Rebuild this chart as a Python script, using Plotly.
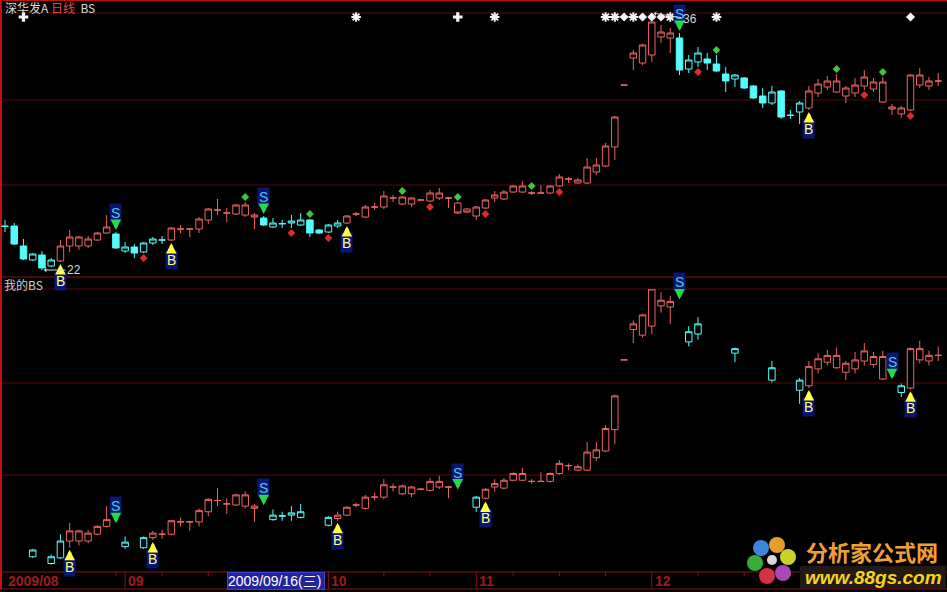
import plotly.graph_objects as go

# ---------------- data ----------------
opens = [5.10, 5.10, 4.70, 4.42, 4.52, 4.30, 4.40, 4.70, 4.70, 4.70,
         4.82, 4.96, 4.94, 4.60, 4.68, 4.58, 4.76, 4.82, 4.82, 5.04,
         5.04, 5.04, 5.22, 5.42, 5.36, 5.34, 5.32, 5.28, 5.26, 5.08,
         5.14, 5.16, 5.12, 5.22, 5.02, 4.98, 5.10, 5.16, 5.34, 5.28,
         5.48, 5.48, 5.66, 5.54, 5.54, 5.62, 5.60, 5.66, 5.66, 5.56,
         5.44, 5.30, 5.46, 5.66, 5.64, 5.78, 5.78, 5.76, 5.76, 5.76,
         5.90, 6.04, 5.96, 5.96, 6.18, 6.30, 6.68, 7.92, 8.46, 8.36,
         8.52, 8.88, 8.86, 8.86, 8.24, 8.38, 8.44, 8.34, 8.14, 8.04,
         8.06, 7.90, 7.70, 7.56, 7.80, 7.32, 7.38, 7.46, 7.76, 7.88,
         7.78, 7.70, 7.76, 7.90, 7.84, 7.58, 7.48, 7.34, 7.42, 7.92,
         7.90, 8.00]
highs = [5.22, 5.16, 4.84, 4.56, 4.60, 4.46, 4.82, 5.02, 4.90, 4.90,
         4.98, 5.32, 4.98, 4.78, 4.74, 4.78, 4.88, 4.90, 5.08, 5.12,
         5.06, 5.28, 5.46, 5.64, 5.46, 5.54, 5.58, 5.36, 5.30, 5.26,
         5.22, 5.32, 5.36, 5.24, 5.04, 5.14, 5.22, 5.32, 5.38, 5.52,
         5.56, 5.80, 5.72, 5.70, 5.68, 5.64, 5.82, 5.86, 5.68, 5.58,
         5.46, 5.50, 5.64, 5.80, 5.82, 5.92, 6.00, 5.80, 5.92, 5.92,
         6.14, 6.08, 6.06, 6.46, 6.46, 6.76, 7.30, 7.92, 8.62, 8.74,
         9.36, 9.12, 9.06, 8.96, 8.52, 8.68, 8.56, 8.52, 8.28, 8.14,
         8.08, 7.92, 7.86, 7.90, 7.82, 7.42, 7.60, 7.90, 8.04, 8.10,
         8.14, 7.90, 8.06, 8.22, 8.06, 8.08, 7.54, 7.50, 8.14, 8.26,
         8.08, 8.16]
lows = [4.98, 4.72, 4.42, 4.40, 4.22, 4.28, 4.38, 4.58, 4.62, 4.66,
        4.80, 4.94, 4.64, 4.56, 4.46, 4.56, 4.72, 4.74, 4.80, 4.96,
        4.88, 4.96, 5.14, 5.32, 5.18, 5.32, 5.28, 5.04, 5.10, 5.06,
        5.06, 5.06, 5.10, 4.88, 4.94, 4.96, 5.06, 5.14, 5.30, 5.26,
        5.42, 5.44, 5.58, 5.52, 5.48, 5.60, 5.58, 5.62, 5.46, 5.34,
        5.36, 5.22, 5.44, 5.58, 5.62, 5.76, 5.76, 5.72, 5.76, 5.74,
        5.88, 5.96, 5.94, 5.94, 6.12, 6.28, 6.42, 7.92, 8.22, 8.32,
        8.38, 8.76, 8.56, 8.12, 8.16, 8.28, 8.22, 8.18, 7.78, 7.88,
        7.84, 7.64, 7.46, 7.52, 7.24, 7.24, 7.14, 7.42, 7.68, 7.82,
        7.76, 7.56, 7.68, 7.82, 7.78, 7.56, 7.32, 7.26, 7.40, 7.86,
        7.82, 7.90]
closes = [5.09, 4.74, 4.44, 4.54, 4.26, 4.42, 4.70, 4.88, 4.88, 4.84,
          4.96, 5.08, 4.66, 4.68, 4.56, 4.76, 4.84, 4.82, 5.06, 5.04,
          5.04, 5.24, 5.44, 5.42, 5.36, 5.52, 5.52, 5.32, 5.12, 5.16,
          5.15, 5.20, 5.22, 4.96, 4.96, 5.12, 5.16, 5.30, 5.34, 5.48,
          5.48, 5.70, 5.66, 5.68, 5.66, 5.62, 5.76, 5.76, 5.66, 5.36,
          5.38, 5.48, 5.62, 5.72, 5.78, 5.90, 5.90, 5.76, 5.76, 5.90,
          6.08, 6.04, 6.02, 6.28, 6.32, 6.70, 7.28, 7.92, 8.56, 8.72,
          9.18, 8.98, 8.96, 8.22, 8.42, 8.56, 8.36, 8.20, 8.00, 8.12,
          7.86, 7.66, 7.56, 7.78, 7.28, 7.31, 7.56, 7.80, 7.94, 8.00,
          8.00, 7.86, 7.92, 8.08, 7.98, 7.98, 7.44, 7.46, 8.12, 8.12,
          8.00, 8.00]

top_buy = [6, 18, 37, 87]
top_sell = [12, 28, 73]
bot_buy = [7, 16, 36, 52, 87, 98]
bot_sell = [12, 28, 49, 73, 96]

green_dots = [26, 33, 43, 49, 57, 77, 90, 95]
red_dots = [15, 31, 35, 46, 52, 60, 75, 93, 98]

star_marks = [38, 53, 65, 66, 68, 72, 77]
diamond_marks = [67, 69, 70, 71, 73, 98]
plus_marks = [2, 49]

month_labels = ["2009/08", "09", "10", "11", "12"]
month_start = [0, 13, 35, 51, 70]
week_ticks = [7, 12, 17, 22, 27, 32, 41, 46, 55, 60, 65, 75, 80, 85, 90, 95, 100]
cursor_index = 24
cursor_label = "2009/09/16(三)"

title_name, title_period, title_formula = "深华发A", "日线", "BS"
sub_title = "我的BS"
logo_cn, logo_url = "分析家公式网", "www.88gs.com"

# ---------------- layout constants ----------------
W, H = 947, 592
TOP_PX = (12, 277)
BOT_PX = (289, 572)
TOP_RANGE = (4.08, 9.38)
BOT_RANGE = (4.149, 9.180)
X_RANGE = (-0.541, 101.95)

RED = "#ec6464"
CYAN = "#54fcfc"
BLACK = "#000000"
GRID = "#5a0909"
SEP = "#8e1010"


def px(x):
    return x / W


def py(y):
    return 1 - y / H


ppu_top = (TOP_PX[1] - TOP_PX[0]) / (TOP_RANGE[1] - TOP_RANGE[0])
ppu_bot = (BOT_PX[1] - BOT_PX[0]) / (BOT_RANGE[1] - BOT_RANGE[0])
N = len(opens)
idx = list(range(N))


def regime(buys, sells):
    s, out = "c", []
    for i in idx:
        if i in buys:
            s = "r"
        if i in sells:
            s = "c"
        out.append(s)
    return out


reg_top = regime(top_buy, top_sell)
reg_bot = regime(bot_buy, bot_sell)

fig = go.Figure()


def add_candles(sel, xa, ya, line_color, up_fill, down_fill):
    if not sel:
        return
    fig.add_trace(go.Candlestick(
        x=sel,
        open=[opens[i] for i in sel], high=[highs[i] for i in sel],
        low=[lows[i] for i in sel], close=[closes[i] for i in sel],
        xaxis=xa, yaxis=ya, whiskerwidth=0, hoverinfo="skip", showlegend=False,
        increasing=dict(line=dict(color=line_color, width=1), fillcolor=up_fill),
        decreasing=dict(line=dict(color=line_color, width=1), fillcolor=down_fill)))


add_candles([i for i in idx if reg_top[i] == "r"], "x", "y", RED, BLACK, BLACK)
add_candles([i for i in idx if reg_top[i] == "c"], "x", "y", CYAN, BLACK, CYAN)
add_candles([i for i in idx if reg_bot[i] == "r"], "x2", "y2", RED, BLACK, BLACK)
add_candles([i for i in idx if reg_bot[i] == "c" and closes[i] > opens[i]],
            "x2", "y2", CYAN, BLACK, CYAN)

# small diamonds above highs / below lows
fig.add_trace(go.Scatter(
    x=green_dots, y=[highs[i] + 5 / ppu_top for i in green_dots], mode="markers",
    marker=dict(symbol="diamond", size=6, color="#3cc83c"),
    xaxis="x", yaxis="y", hoverinfo="skip", showlegend=False))
fig.add_trace(go.Scatter(
    x=red_dots, y=[lows[i] - 5 / ppu_top for i in red_dots], mode="markers",
    marker=dict(symbol="diamond", size=6, color="#e02a2a"),
    xaxis="x", yaxis="y", hoverinfo="skip", showlegend=False))

# white marks on the top row
WHITE = "#f4f4f4"
row_y = TOP_RANGE[1] - (17 - TOP_PX[0]) / ppu_top
fig.add_trace(go.Scatter(
    x=star_marks, y=[row_y] * len(star_marks), mode="markers",
    marker=dict(symbol="asterisk-open", size=8, color=WHITE, line=dict(color=WHITE, width=2)),
    xaxis="x", yaxis="y", hoverinfo="skip", showlegend=False))
fig.add_trace(go.Scatter(
    x=diamond_marks, y=[row_y] * len(diamond_marks), mode="markers",
    marker=dict(symbol="diamond", size=7, color=WHITE),
    xaxis="x", yaxis="y", hoverinfo="skip", showlegend=False))
fig.add_trace(go.Scatter(
    x=plus_marks, y=[row_y] * len(plus_marks), mode="markers",
    marker=dict(symbol="cross", size=8, color=WHITE),
    xaxis="x", yaxis="y", hoverinfo="skip", showlegend=False))

annotations = []


def bs_label(i, kind, xr, yr):
    if kind == "B":
        return dict(x=i, y=lows[i], xref=xr, yref=yr, text="B", showarrow=True,
                    ax=0, ay=19, arrowhead=2, arrowsize=0.6, arrowwidth=3.5,
                    arrowcolor="#ffff46", standoff=2,
                    font=dict(family="Liberation Sans", size=14, color="#ffff8c"),
                    bgcolor="#0b1670", borderpad=1)
    return dict(x=i, y=highs[i], xref=xr, yref=yr, text="S", showarrow=True,
                ax=0, ay=-19, arrowhead=2, arrowsize=0.6, arrowwidth=3.5,
                arrowcolor="#22dc44", standoff=2,
                font=dict(family="Liberation Sans", size=14, color="#4cc8f0"),
                bgcolor="#0b1670", borderpad=1)


for i in top_buy:
    annotations.append(bs_label(i, "B", "x", "y"))
for i in top_sell:
    annotations.append(bs_label(i, "S", "x", "y"))
for i in bot_buy:
    annotations.append(bs_label(i, "B", "x2", "y2"))
for i in bot_sell:
    annotations.append(bs_label(i, "S", "x2", "y2"))

# min / max price tags
i_lo = min(idx, key=lambda k: lows[k])
i_hi = max(idx, key=lambda k: highs[k])
annotations.append(dict(x=i_lo, y=lows[i_lo], xref="x", yref="y",
                        text=f"{lows[i_lo]:.2f}"[-2:], showarrow=True, ax=32, ay=0,
                        arrowhead=1, arrowsize=0.8, arrowwidth=1, arrowcolor="#d8d8d8",
                        standoff=2, font=dict(family="Liberation Sans", size=12, color="#d8d8d8")))
annotations.append(dict(x=i_hi, y=highs[i_hi], xref="x", yref="y",
                        text=f"{highs[i_hi]:.2f}"[-2:], showarrow=True, ax=38, ay=6,
                        arrowhead=1, arrowsize=0.8, arrowwidth=1, arrowcolor="#d8d8d8",
                        standoff=2, font=dict(family="Liberation Sans", size=12, color="#d8d8d8")))

# headers
annotations.append(dict(
    x=px(3), y=py(-3), xref="paper", yref="paper", xanchor="left", yanchor="top",
    showarrow=False,
    text=f"{title_name}&nbsp;<span style='color:#e84848'>{title_period}</span>&nbsp;&nbsp;{title_formula}",
    font=dict(family="Noto Sans CJK SC", size=12, color="#dcdcdc")))
annotations.append(dict(
    x=px(2), y=py(274), xref="paper", yref="paper", xanchor="left", yanchor="top",
    showarrow=False, text=sub_title,
    font=dict(family="Noto Sans CJK SC", size=12, color="#d0d0d0")))

# date bar
for lab, s in zip(month_labels, month_start):
    annotations.append(dict(
        x=s, y=py(581), xref="x2", yref="paper", xanchor="left", yanchor="middle",
        xshift=1, showarrow=False, text=lab,
        font=dict(family="Liberation Sans", size=14, color="#9c1c1c", weight="bold")))
annotations.append(dict(
    x=cursor_index, y=py(580.5), xref="x2", yref="paper", xanchor="left", yanchor="middle",
    showarrow=False, text=cursor_label, width=96, align="left",
    bgcolor="#24249a", bordercolor="#4040d8", borderwidth=1, borderpad=0,
    font=dict(family="Liberation Sans, Noto Sans CJK SC", size=14, color="#ffffff")))

# logo texts
annotations.append(dict(
    x=px(872), y=py(551), xref="paper", yref="paper", xanchor="center", yanchor="middle",
    showarrow=False, text=logo_cn,
    font=dict(family="Noto Sans CJK SC", size=22, color="#f0a030", weight="bold")))
annotations.append(dict(
    x=px(873), y=py(577), xref="paper", yref="paper", xanchor="center", yanchor="middle",
    showarrow=False, text=f"<i>{logo_url}</i>",
    font=dict(family="Liberation Sans", size=19, color="#f5d41e", weight="bold")))

shapes = []


def hline(y, color, width=1):
    shapes.append(dict(type="line", xref="paper", yref="paper", x0=0, x1=1,
                       y0=py(y), y1=py(y), line=dict(color=color, width=width), layer="below"))


hline(0.5, "#c01010")
for y in (13, 100, 185, 289, 383, 475):
    hline(y, GRID)
hline(277, SEP)
hline(572, SEP)
hline(589, SEP)
shapes.append(dict(type="line", xref="paper", yref="paper", x0=px(1), x1=px(1),
                   y0=py(0), y1=py(589), line=dict(color="#c01010", width=2), layer="below"))
for s in month_start[1:]:
    shapes.append(dict(type="line", xref="x2", yref="paper", x0=s, x1=s,
                       y0=py(572), y1=py(589), line=dict(color=SEP, width=1), layer="below"))
for t in week_ticks:
    shapes.append(dict(type="line", xref="x2", yref="paper", x0=t, x1=t,
                       y0=py(572), y1=py(576), line=dict(color=SEP, width=1), layer="below"))

# logo backdrop and flower
shapes.append(dict(type="rect", xref="paper", yref="paper", x0=px(800), x1=px(946),
                   y0=py(588), y1=py(566), fillcolor="#201a12", line=dict(width=0), layer="above"))
petals = [(777, 545, "#f2a628"), (761, 548, "#3c8ee6"), (755, 563, "#3cb43c"),
          (767, 576, "#e03648"), (783, 573, "#b04cc0"), (788, 557, "#d4dc2c")]
for cx, cy, col in petals:
    shapes.append(dict(type="circle", xref="paper", yref="paper",
                       x0=px(cx - 8), x1=px(cx + 8), y0=py(cy + 8), y1=py(cy - 8),
                       fillcolor=col, line=dict(width=0), opacity=0.95, layer="above"))
shapes.append(dict(type="circle", xref="paper", yref="paper",
                   x0=px(767), x1=px(777), y0=py(565), y1=py(555),
                   fillcolor="#d8d8d8", line=dict(width=0), layer="above"))

axis_common = dict(visible=False, showgrid=False, zeroline=False, fixedrange=True)
fig.update_layout(
    width=W, height=H, margin=dict(l=0, r=0, t=0, b=0),
    paper_bgcolor=BLACK, plot_bgcolor=BLACK,
    boxgap=0.3, boxgroupgap=0, showlegend=False, hovermode=False,
    xaxis=dict(domain=[0, 1], range=list(X_RANGE), anchor="y",
               rangeslider=dict(visible=False), **axis_common),
    xaxis2=dict(domain=[0, 1], range=list(X_RANGE), anchor="y2", matches="x",
                rangeslider=dict(visible=False), **axis_common),
    yaxis=dict(domain=[py(TOP_PX[1]), py(TOP_PX[0])], range=list(TOP_RANGE), anchor="x",
               **axis_common),
    yaxis2=dict(domain=[py(BOT_PX[1]), py(BOT_PX[0])], range=list(BOT_RANGE), anchor="x2",
                **axis_common),
    annotations=annotations, shapes=shapes,
)

fig.write_html(
    "out.html",
    config={"displayModeBar": False},
    post_script="document.body.style.margin='0';document.body.style.background='#000';"
                "document.body.style.overflow='hidden';",
)
